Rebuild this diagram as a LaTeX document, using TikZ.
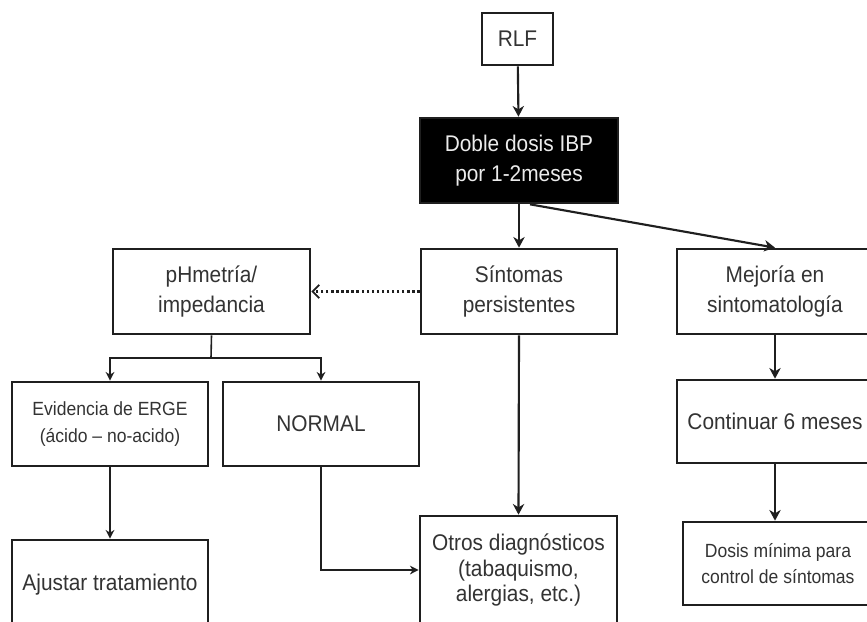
\documentclass[tikz,border=0pt]{standalone}
\usepackage{fontspec}
\setmainfont{Liberation Sans}[FakeStretch=0.92]
\usetikzlibrary{arrows.meta}
\definecolor{ink}{gray}{0.12}
\definecolor{txt}{gray}{0.2}
\tikzset{
  box/.style={draw=ink, line width=2pt, inner sep=0pt, align=center, text=txt,
    font=\fontsize{17}{22.5}\selectfont},
  smallbox/.style={box, font=\fontsize{14.3}{20}\selectfont},
  darkbox/.style={box, fill=black, text=white!92!black},
  conn/.style={draw=ink, line width=1.6pt, -{Stealth[length=8pt,width=8.5pt,inset=2.5pt]}},
  thinconn/.style={draw=ink, line width=1.2pt, -{Stealth[length=6.5pt,width=6.5pt,inset=2pt]}},
  dotconn/.style={draw=ink, line width=1.8pt, dotted, -{Straight Barb[length=5pt,width=10pt,line width=1.4pt]}}
}
\begin{document}
\begin{tikzpicture}[x=0.75pt,y=-0.75pt]
\useasboundingbox (0,0) rectangle (867,621);
\fill[white] (0,0) rectangle (867,621);
\clip (0,0) rectangle (867,621);

\node[box, minimum width=71*0.75pt, minimum height=52*0.75pt] (rlf) at (517.5,39) {RLF};
\node[darkbox, minimum width=198*0.75pt, minimum height=85*0.75pt] (doble) at (519,160.5) {Doble dosis IBP\\por 1-2meses};
\node[box, minimum width=196*0.75pt, minimum height=85*0.75pt] (sint) at (519,291.5) {Síntomas\\persistentes};
\node[box, minimum width=197*0.75pt, minimum height=85*0.75pt] (ph) at (211.5,291.5) {pHmetría/\\impedancia};
\node[box, minimum width=196*0.75pt, minimum height=85*0.75pt] (mej) at (775,291.5) {Mejoría en\\sintomatología};
\node[box, minimum width=196*0.75pt, minimum height=83*0.75pt] (cont) at (775,421.5) {Continuar 6 meses};
\node[smallbox, minimum width=190*0.75pt, minimum height=83*0.75pt] (dosis) at (778,563.5) {Dosis mínima para\\control de síntomas};
\node[smallbox, minimum width=196*0.75pt, minimum height=84*0.75pt] (evid) at (110,424) {Evidencia de ERGE\\(ácido – no-acido)};
\node[box, minimum width=196*0.75pt, minimum height=84*0.75pt] (normal) at (321,424) {NORMAL};
\node[box, minimum width=196*0.75pt, minimum height=90*0.75pt] (ajust) at (110,585) {Ajustar tratamiento};
\node[box, font=\fontsize{17}{19.2}\selectfont, minimum width=197*0.75pt, minimum height=108*0.75pt] (otros) at (518.5,570) {Otros diagnósticos\\(tabaquismo,\\alergias, etc.)};

\coordinate (split) at (211,358);

\draw[conn] (rlf) -- (doble);
\draw[conn] (doble.south) -- (sint.north);
\draw[conn] ([xshift=8.25pt]doble.south) -- (mej.north);
\draw[dotconn] (sint.west) -- (ph.east);
\draw[draw=ink, line width=1.2pt] (ph.south) -- (split);
\draw[thinconn] (split) -| (evid.north);
\draw[thinconn] (split) -| (normal.north);
\draw[thinconn] (evid.south) -- (ajust.north);
\draw[thinconn] (normal.south) |- (otros.west);
\draw[conn] (sint.south) -- (otros.north);
\draw[conn] (mej.south) -- (cont.north);
\draw[conn] (cont.south) -- (cont.south |- dosis.north);
\end{tikzpicture}
\end{document}
